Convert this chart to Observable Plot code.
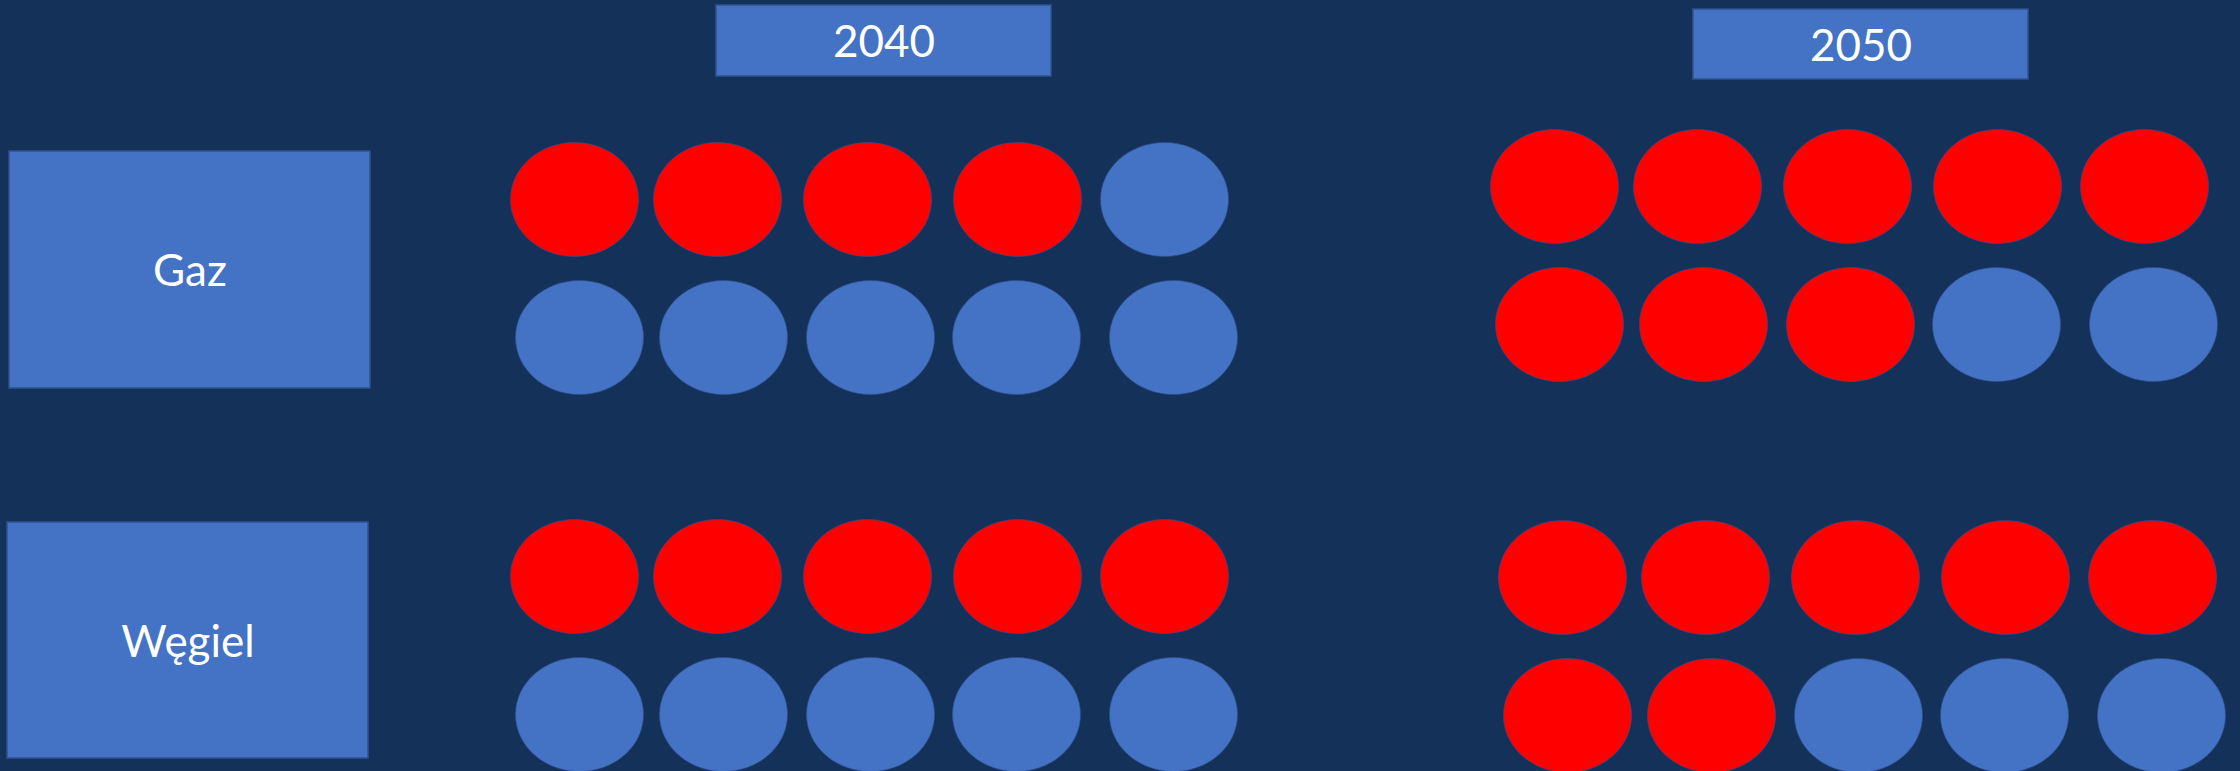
<!DOCTYPE html>
<html>
<head>
<meta charset="utf-8">
<script src="https://cdn.jsdelivr.net/npm/d3@7"></script>
<script src="https://cdn.jsdelivr.net/npm/@observablehq/plot@0.6"></script>
<style>
  html, body { margin: 0; padding: 0; background: #14315A; }
  #chart svg { display: block; }
</style>
</head>
<body>
<div id="chart"></div>
<script>
// ---- data ----
const years = ["2040", "2050"];
const fuels = ["Gaz", "Węgiel"];
// number of red (highlighted) dots out of 10, per fuel (rows) and year (columns)
const redCounts = [
  [4, 8],  // Gaz
  [5, 7]   // Węgiel
];
const dotsPerCell = 10;

// ---- layout (pixels) ----
const W = 2240, H = 771;
const cellOrigin = {
  "Gaz|2040": [574, 199], "Gaz|2050": [1554, 186],
  "Węgiel|2040": [574, 576], "Węgiel|2050": [1562, 577]
};
const colOffsets = [[0, 143, 293, 443, 590], [5, 149, 296, 442, 599]];
const rowStep = 138, perRow = 5;
const yearBox = { "2040": [716, 1051, 5, 76], "2050": [1693, 2028, 9, 79] };
const fuelBox = { "Gaz": [9, 370, 151, 388], "Węgiel": [7, 368, 522, 758] };
const RY = 57, RX = 64;

// ---- build tables ----
const dots = [];
fuels.forEach((fuel, fi) => years.forEach((year, yi) => {
  const [x0, y0] = cellOrigin[fuel + "|" + year];
  for (let i = 0; i < dotsPerCell; i++) {
    const row = Math.floor(i / perRow), col = i % perRow;
    dots.push({
      fuel, year,
      state: i < redCounts[fi][yi] ? "on" : "off",
      x: x0 + colOffsets[row][col],
      y: y0 + row * rowStep
    });
  }
}));
const yearRects = years.map(y => ({ label: y, x1: yearBox[y][0], x2: yearBox[y][1], y1: yearBox[y][2], y2: yearBox[y][3] }));
const fuelRects = fuels.map(f => ({ label: f, x1: fuelBox[f][0], x2: fuelBox[f][1], y1: fuelBox[f][2], y2: fuelBox[f][3] }));
const rects = [...yearRects, ...fuelRects];

// custom ellipse symbol
const ellipse = {
  draw(ctx, size) {
    const ry = Math.sqrt(size / Math.PI), rx = ry * RX / RY, k = 0.5523;
    ctx.moveTo(rx, 0);
    ctx.bezierCurveTo(rx, k * ry, k * rx, ry, 0, ry);
    ctx.bezierCurveTo(-k * rx, ry, -rx, k * ry, -rx, 0);
    ctx.bezierCurveTo(-rx, -k * ry, -k * rx, -ry, 0, -ry);
    ctx.bezierCurveTo(k * rx, -ry, rx, -k * ry, rx, 0);
    ctx.closePath();
  }
};

const chart = Plot.plot({
  width: W, height: H,
  margin: 0,
  style: { background: "#14315A", fontFamily: "Lato, 'Open Sans', sans-serif" },
  x: { domain: [0, W], range: [0, W], axis: null },
  y: { domain: [0, H], range: [0, H], axis: null },
  color: { domain: ["on", "off"], range: ["#FF0000", "#4472C4"] },
  marks: [
    Plot.rect(rects, { x1: "x1", x2: "x2", y1: "y1", y2: "y2", fill: "#4472C4", stroke: "#2F528F", strokeWidth: 1.5 }),
    Plot.text(rects, { x: d => (d.x1 + d.x2) / 2, y: d => (d.y1 + d.y2) / 2 + 2, text: "label", fill: "white", fontSize: 44 }),
    Plot.dot(dots, { x: "x", y: "y", fill: "state", stroke: "#2F528F", strokeWidth: 1, strokeOpacity: 0.6, r: RY, symbol: ellipse })
  ]
});
document.getElementById("chart").appendChild(chart);
</script>
</body>
</html>
